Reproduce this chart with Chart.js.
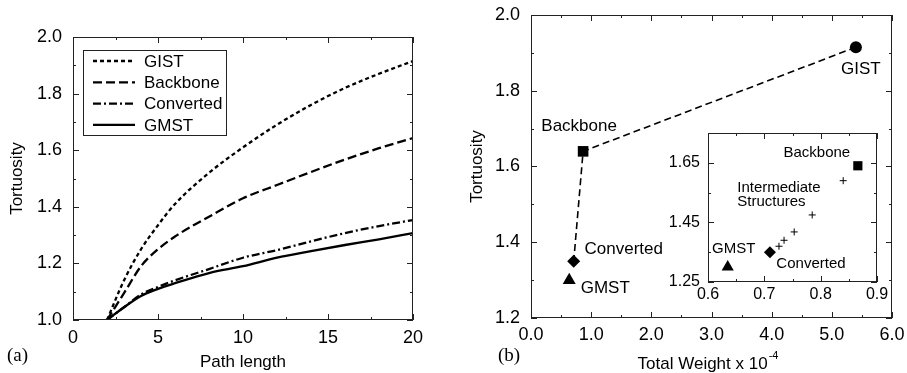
<!DOCTYPE html>
<html lang="en">
<head>
    <meta charset="UTF-8">
    <title>Tortuosity</title>
    <script src="https://cdn.jsdelivr.net/npm/chart.js"></script>
    <style>
        body {
            margin: 0;
            background-color: #fff;
        }

        .wrap {
            position: relative;
            width: 907px;
            height: 373px;
            overflow: hidden;
        }

        canvas {
            position: absolute;
        }

        /* canvases are a bit oversized so the tick-label overhang never shifts the plot area */
        #leftChart { left: 0; top: 0; }
        #rightChart { left: 460px; top: -10px; }
        #insetChart { left: 660px; top: 110px; }

        .panel {
            position: absolute;
            top: 344px;
            font-family: "Liberation Serif", "Times New Roman", serif;
            font-size: 19px;
            color: #000;
        }
    </style>
</head>
<body>
    <div class="wrap">
        <canvas id="leftChart" width="460" height="373"></canvas>
        <canvas id="rightChart" width="457" height="383"></canvas>
        <canvas id="insetChart" width="240" height="200"></canvas>
        <div class="panel" style="left: 7px;">(a)</div>
        <div class="panel" style="left: 498px;">(b)</div>
    </div>

    <script>
        // (a) tortuosity vs path length
        const pathLength = [2, 3, 4, 5, 6, 8, 10, 12, 14, 16, 18, 20];
        const gistCurve = [1.0, 1.14, 1.25, 1.335, 1.41, 1.52, 1.61, 1.69, 1.76, 1.82, 1.87, 1.915];
        const backboneCurve = [1.0, 1.095, 1.19, 1.25, 1.295, 1.365, 1.43, 1.477, 1.523, 1.567, 1.607, 1.643];
        const convertedCurve = [1.0, 1.045, 1.09, 1.117, 1.14, 1.18, 1.22, 1.247, 1.278, 1.307, 1.332, 1.353];
        const gmstCurve = [1.0, 1.045, 1.085, 1.11, 1.13, 1.166, 1.19, 1.22, 1.243, 1.265, 1.285, 1.307];
        const pathTicks = [0, 5, 10, 15, 20];
        const tortTicksA = [1.0, 1.2, 1.4, 1.6, 1.8, 2.0];

        // (b) tortuosity vs total weight
        const structures = ['GIST', 'Backbone', 'Converted', 'GMST'];
        const totalWeight = [5.4, 0.866, 0.71, 0.635];
        const tortuosity = [1.915, 1.64, 1.35, 1.30];
        const weightTicks = [0, 1, 2, 3, 4, 5, 6];
        const tortTicksB = [1.2, 1.4, 1.6, 1.8, 2.0];

        // inset
        const intermediateWeight = [0.726, 0.735, 0.753, 0.785, 0.84];
        const intermediateTort = [1.37, 1.39, 1.418, 1.475, 1.59];
        const insetWeightTicks = [0.6, 0.7, 0.8, 0.9];
        const insetTortTicks = [1.25, 1.45, 1.65];

        Chart.defaults.font.family = '"Liberation Sans", Arial, sans-serif';
        Chart.defaults.color = '#000';
        Chart.defaults.animation = false;

        const toPoints = (xs, ys) => xs.map((x, i) => ({ x: x, y: ys[i] }));
        const setTicks = list => scale => { scale.ticks = list.map(v => ({ value: v })); };
        const noGrid = { display: false, drawTicks: false };

        // frame with inward ticks on all four sides (gnuplot style)
        const frameTicks = {
            id: 'frameTicks',
            beforeDraw(chart, args, opts) {
                if (!opts.fill) return;
                const a = chart.chartArea;
                chart.ctx.save();
                chart.ctx.fillStyle = opts.fill;
                chart.ctx.fillRect(a.left, a.top, a.right - a.left, a.bottom - a.top);
                chart.ctx.restore();
            },
            afterDraw(chart, args, opts) {
                const { ctx, chartArea: a, scales } = chart;
                ctx.save();
                ctx.strokeStyle = '#222';
                ctx.lineWidth = 1;
                ctx.strokeRect(Math.round(a.left) + 0.5, Math.round(a.top) + 0.5,
                    Math.round(a.right - a.left) - 1, Math.round(a.bottom - a.top) - 1);

                const withMinor = vals => {
                    const out = [];
                    vals.forEach((v, i) => {
                        out.push([v, 6]);
                        if (i < vals.length - 1) out.push([(v + vals[i + 1]) / 2, 3]);
                    });
                    return out;
                };
                ctx.beginPath();
                withMinor(scales.x.ticks.map(t => t.value)).forEach(([v, len]) => {
                    const px = Math.round(scales.x.getPixelForValue(v)) + 0.5;
                    ctx.moveTo(px, a.bottom); ctx.lineTo(px, a.bottom - len);
                    ctx.moveTo(px, a.top); ctx.lineTo(px, a.top + len);
                });
                withMinor(scales.y.ticks.map(t => t.value)).forEach(([v, len]) => {
                    const py = Math.round(scales.y.getPixelForValue(v)) + 0.5;
                    ctx.moveTo(a.left, py); ctx.lineTo(a.left + len, py);
                    ctx.moveTo(a.right, py); ctx.lineTo(a.right - len, py);
                });
                ctx.stroke();
                ctx.restore();
            }
        };

        // boxed legend inside the plot of (a)
        const boxLegend = {
            id: 'boxLegend',
            afterDraw(chart, args, o) {
                if (!o.show) return;
                const ctx = chart.ctx;
                ctx.save();
                ctx.fillStyle = '#fff';
                ctx.fillRect(o.left, o.top, o.width, o.height);
                ctx.strokeStyle = '#222';
                ctx.lineWidth = 1;
                ctx.strokeRect(o.left + 0.5, o.top + 0.5, o.width, o.height);
                ctx.font = '17px "Liberation Sans", Arial, sans-serif';
                ctx.textBaseline = 'middle';
                chart.data.datasets.forEach((ds, i) => {
                    const y = o.top + o.first + i * o.row;
                    ctx.beginPath();
                    ctx.strokeStyle = '#000';
                    ctx.lineWidth = ds.borderWidth;
                    ctx.setLineDash(ds.borderDash || []);
                    ctx.moveTo(o.left + 10, y);
                    ctx.lineTo(o.left + 52, y);
                    ctx.stroke();
                    ctx.setLineDash([]);
                    ctx.fillStyle = '#000';
                    ctx.fillText(ds.label, o.left + 61, y + 1);
                });
                ctx.restore();
            }
        };

        // text labels next to the markers of (b) and the inset
        const pointLabels = {
            id: 'pointLabels',
            afterDatasetsDraw(chart, args, o) {
                if (!o.items) return;
                const { ctx, scales } = chart;
                ctx.save();
                ctx.fillStyle = '#000';
                ctx.font = o.size + 'px "Liberation Sans", Arial, sans-serif';
                ctx.textBaseline = 'middle';
                o.items.forEach(it => {
                    const px = scales.x.getPixelForValue(it.x) + it.dx;
                    const py = scales.y.getPixelForValue(it.y) + it.dy;
                    ctx.textAlign = it.align || 'center';
                    it.text.forEach((line, k) => ctx.fillText(line, px, py + k * o.size * 0.95));
                });
                if (o.xTitle) {
                    // axis title with a superscript exponent
                    const a = chart.chartArea;
                    const cx = (a.left + a.right) / 2 - 4;
                    ctx.font = '17px "Liberation Sans", Arial, sans-serif';
                    const w1 = ctx.measureText(o.xTitle).width;
                    ctx.font = '11px "Liberation Sans", Arial, sans-serif';
                    const w2 = ctx.measureText(o.xSup).width;
                    const x0 = cx - (w1 + w2) / 2;
                    ctx.textAlign = 'left';
                    ctx.font = '17px "Liberation Sans", Arial, sans-serif';
                    ctx.fillText(o.xTitle, x0, o.xTitleY);
                    ctx.font = '11px "Liberation Sans", Arial, sans-serif';
                    ctx.fillText(o.xSup, x0 + w1 + 1, o.xTitleY - 8);
                }
                ctx.restore();
            }
        };

        const curveStyle = { borderColor: '#000', borderWidth: 2.3, pointRadius: 0, fill: false, cubicInterpolationMode: 'monotone' };

        new Chart(document.getElementById('leftChart'), {
            type: 'line',
            data: {
                datasets: [
                    Object.assign({ label: 'GIST', data: toPoints(pathLength, gistCurve), borderDash: [4, 3] }, curveStyle),
                    Object.assign({ label: 'Backbone', data: toPoints(pathLength, backboneCurve), borderDash: [9, 4] }, curveStyle),
                    Object.assign({ label: 'Converted', data: toPoints(pathLength, convertedCurve), borderDash: [8, 3, 2, 3] }, curveStyle),
                    Object.assign({ label: 'GMST', data: toPoints(pathLength, gmstCurve), borderDash: [] }, curveStyle)
                ]
            },
            options: {
                responsive: false,
                layout: { padding: { top: 37, right: 47, left: 0, bottom: 0 } },
                plugins: {
                    legend: { display: false },
                    tooltip: { enabled: false },
                    boxLegend: { show: true, left: 83, top: 50, width: 143, height: 85, first: 11, row: 21.3 }
                },
                scales: {
                    x: {
                        type: 'linear', min: 0, max: 20,
                        afterBuildTicks: setTicks(pathTicks),
                        afterFit: s => { s.height = 53; },
                        grid: noGrid, border: { display: false },
                        ticks: { font: { size: 18 }, padding: 7, maxRotation: 0, autoSkip: false },
                        title: { display: true, text: 'Path length', font: { size: 17 }, padding: { top: 0, bottom: 0 } }
                    },
                    y: {
                        min: 1, max: 2,
                        afterBuildTicks: setTicks(tortTicksA),
                        afterFit: s => { s.width = 73; },
                        grid: noGrid, border: { display: false },
                        ticks: { font: { size: 18 }, padding: 11, callback: v => v.toFixed(1) },
                        title: { display: true, text: 'Tortuosity', font: { size: 17 }, padding: { top: 7, bottom: 0 } }
                    }
                }
            },
            plugins: [frameTicks, boxLegend]
        });

        const markerStyles = ['circle', 'rect', 'rectRot', 'triangle'];

        new Chart(document.getElementById('rightChart'), {
            type: 'scatter',
            data: {
                datasets: [
                    {
                        label: 'path',
                        data: toPoints(totalWeight.slice(0, 3), tortuosity.slice(0, 3)),
                        showLine: true, borderColor: '#000', borderWidth: 1.6, borderDash: [7, 4], pointRadius: 0
                    },
                    {
                        label: 'structures',
                        data: toPoints(totalWeight, tortuosity),
                        pointStyle: markerStyles, pointRadius: [6, 7.5, 6.5, 7.5],
                        backgroundColor: '#000', borderColor: '#000', borderWidth: 0
                    }
                ]
            },
            options: {
                responsive: false,
                layout: { padding: { top: 25, right: 25, left: 0, bottom: 0 } },
                plugins: {
                    legend: { display: false },
                    tooltip: { enabled: false },
                    pointLabels: {
                        size: 17,
                        items: [
                            { text: [structures[0]], x: totalWeight[0], y: tortuosity[0], dx: 5, dy: 22 },
                            { text: [structures[1]], x: totalWeight[1], y: tortuosity[1], dx: -4, dy: -25 },
                            { text: [structures[2]], x: totalWeight[2], y: tortuosity[2], dx: 50, dy: -12 },
                            { text: [structures[3]], x: totalWeight[3], y: tortuosity[3], dx: 36, dy: 8 }
                        ],
                        xTitle: 'Total Weight x 10', xSup: '-4', xTitleY: 374
                    }
                },
                scales: {
                    x: {
                        type: 'linear', min: 0, max: 6,
                        afterBuildTicks: setTicks(weightTicks),
                        afterFit: s => { s.height = 55; },
                        grid: noGrid, border: { display: false },
                        ticks: { font: { size: 18 }, padding: 6, maxRotation: 0, autoSkip: false, callback: v => v.toFixed(1) }
                    },
                    y: {
                        min: 1.2, max: 2.0,
                        afterBuildTicks: setTicks(tortTicksB),
                        afterFit: s => { s.width = 71; },
                        grid: noGrid, border: { display: false },
                        ticks: { font: { size: 18 }, padding: 11, callback: v => v.toFixed(1) },
                        title: { display: true, text: 'Tortuosity', font: { size: 17 }, padding: { top: 7, bottom: 0 } }
                    }
                }
            },
            plugins: [frameTicks, pointLabels]
        });

        new Chart(document.getElementById('insetChart'), {
            type: 'scatter',
            data: {
                datasets: [
                    {
                        label: 'Intermediate Structures',
                        data: toPoints(intermediateWeight, intermediateTort),
                        pointStyle: 'cross', pointRadius: 3.5, borderColor: '#000', borderWidth: 1
                    },
                    {
                        label: 'structures',
                        data: toPoints(totalWeight.slice(1), tortuosity.slice(1)),
                        pointStyle: markerStyles.slice(1), pointRadius: [6.5, 6, 7],
                        backgroundColor: '#000', borderColor: '#000', borderWidth: 0
                    }
                ]
            },
            options: {
                responsive: false,
                layout: { padding: { top: 23, right: 23, left: 0, bottom: 0 } },
                plugins: {
                    legend: { display: false },
                    tooltip: { enabled: false },
                    frameTicks: { fill: '#fff' },
                    pointLabels: {
                        size: 15,
                        items: [
                            { text: [structures[1]], x: totalWeight[1], y: tortuosity[1], dx: -41, dy: -13 },
                            { text: [structures[2]], x: totalWeight[2], y: tortuosity[2], dx: 41, dy: 12 },
                            { text: [structures[3]], x: totalWeight[3], y: tortuosity[3], dx: 6, dy: -18 },
                            { text: ['Intermediate', 'Structures'], x: intermediateWeight[3], y: intermediateTort[3], dx: -75, dy: -27, align: 'left' }
                        ]
                    }
                },
                scales: {
                    x: {
                        type: 'linear', min: 0.6, max: 0.9,
                        afterBuildTicks: setTicks(insetWeightTicks),
                        afterFit: s => { s.height = 28; },
                        grid: noGrid, border: { display: false },
                        ticks: { font: { size: 16 }, padding: 3, maxRotation: 0, autoSkip: false, callback: v => v.toFixed(1) }
                    },
                    y: {
                        min: 1.25, max: 1.75,
                        afterBuildTicks: setTicks(insetTortTicks),
                        afterFit: s => { s.width = 48; },
                        grid: noGrid, border: { display: false },
                        ticks: { font: { size: 16 }, padding: 8, callback: v => v.toFixed(2) }
                    }
                }
            },
            plugins: [frameTicks, pointLabels]
        });
    </script>
</body>
</html>
